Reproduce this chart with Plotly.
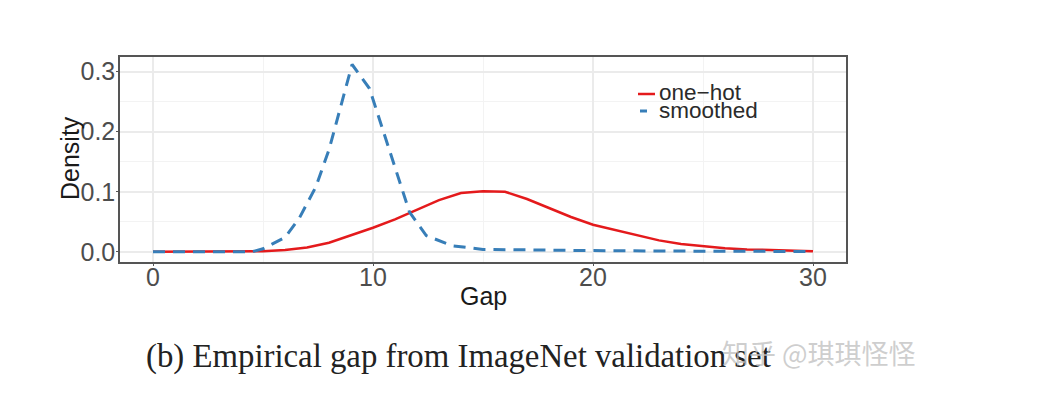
import plotly.graph_objects as go

# ---- data ----
onehot_x = [0, 1, 2, 3, 4, 5, 6, 7, 8, 9, 10, 11, 12, 13, 14, 15, 16, 17, 18, 19, 20,
            21, 22, 23, 24, 25, 26, 27, 28, 29, 30]
onehot_y = [0.0, 0.0, 0.0, 0.0, 0.0, 0.001, 0.003, 0.007, 0.015, 0.027, 0.040, 0.054,
            0.070, 0.086, 0.098, 0.101, 0.100, 0.088, 0.073, 0.058, 0.045, 0.036, 0.027,
            0.019, 0.013, 0.009, 0.006, 0.004, 0.003, 0.002, 0.001]

smoothed_x = [0, 2, 4.5, 5, 6, 6.65, 7.4, 8, 9.05, 9.84, 11.66, 12.42, 13.6, 15, 17,
              20, 25, 30]
smoothed_y = [0.0, 0.0, 0.0, 0.005, 0.024, 0.056, 0.108, 0.17, 0.312, 0.272, 0.066,
              0.027, 0.010, 0.004, 0.003, 0.002, 0.001, 0.0005]

series_names = ["one\u2212hot", "smoothed"]
x_ticks = [0, 10, 20, 30]
y_ticks = [0.0, 0.1, 0.2, 0.3]
x_title = "Gap"
y_title = "Density"
caption = "(b) Empirical gap from ImageNet validation set"
watermark = "知乎 @琪琪怪怪"

RED = "#E41A1C"
BLUE = "#377EB8"

# page-pixel helpers (plot panel spans x 120..846, y 57..262 in the page)
PX0, PX1, PY0, PY1 = 120, 846, 57, 262


def px(xp):
    return (xp - PX0) / (PX1 - PX0)


def py(yp):
    return (PY1 - yp) / (PY1 - PY0)


fig = go.Figure()
fig.add_trace(go.Scatter(x=onehot_x, y=onehot_y, mode="lines", name=series_names[0],
                         line=dict(color=RED, width=2.5), showlegend=False))
fig.add_trace(go.Scatter(x=smoothed_x, y=smoothed_y, mode="lines", name=series_names[1],
                         line=dict(color=BLUE, width=3, dash="12px,8px"), showlegend=False))

tickfont = dict(family="Liberation Sans, Arial, sans-serif", size=25, color="#4D4D4D")
titlefont = dict(family="Liberation Sans, Arial, sans-serif", size=25, color="#1A1A1A")

fig.update_xaxes(range=[-1.5, 31.5], tickvals=x_ticks, ticktext=[str(v) for v in x_ticks],
                 showgrid=True, gridcolor="#EBEBEB", gridwidth=2,
                 minor=dict(dtick=5, tick0=0, showgrid=True, gridcolor="#F3F3F3", gridwidth=1),
                 showline=True, linecolor="#555555", linewidth=1.5, mirror=True,
                 ticks="outside", ticklen=2, tickcolor="#555555",
                 tickfont=tickfont, zeroline=False, ticklabelstandoff=-10)
fig.update_yaxes(range=[-0.017, 0.3245], tickvals=y_ticks,
                 ticktext=[f"{v:.1f}" for v in y_ticks],
                 showgrid=True, gridcolor="#EBEBEB", gridwidth=2,
                 minor=dict(dtick=0.05, tick0=0, showgrid=True, gridcolor="#F3F3F3", gridwidth=1),
                 showline=True, linecolor="#555555", linewidth=1.5, mirror=True,
                 ticks="outside", ticklen=2, tickcolor="#555555",
                 tickfont=tickfont, zeroline=False, ticklabelstandoff=-4)

# axis titles
fig.add_annotation(xref="paper", yref="paper", x=px(483), y=py(296), text=x_title,
                   showarrow=False, xanchor="center", yanchor="middle", font=titlefont)
fig.add_annotation(xref="paper", yref="paper", x=px(70), y=py(158), text=y_title,
                   textangle=-90, showarrow=False, xanchor="center", yanchor="middle",
                   font=titlefont)

# legend drawn inside panel (ggplot style, tight spacing)
legend_font = dict(family="Liberation Sans, Arial, sans-serif", size=22.5, color="#2B2B2B")
fig.add_shape(type="line", xref="paper", yref="paper", x0=px(638), x1=px(655),
              y0=py(94), y1=py(94), line=dict(color=RED, width=2.5))
fig.add_shape(type="line", xref="paper", yref="paper", x0=px(640), x1=px(647),
              y0=py(111), y1=py(111), line=dict(color=BLUE, width=3))
fig.add_annotation(xref="paper", yref="paper", x=px(657), y=py(92.5), text=series_names[0],
                   showarrow=False, xanchor="left", yanchor="middle", font=legend_font)
fig.add_annotation(xref="paper", yref="paper", x=px(657), y=py(110.5), text=series_names[1],
                   showarrow=False, xanchor="left", yanchor="middle", font=legend_font)

# caption and watermark
fig.add_annotation(xref="paper", yref="paper", x=px(458), y=py(356),
                   text=caption, showarrow=False, xanchor="center", yanchor="middle",
                   font=dict(family="Liberation Serif, Times New Roman, serif", size=32.8,
                             color="#222222"))
fig.add_annotation(xref="paper", yref="paper", x=px(819), y=py(352),
                   text=watermark, showarrow=False, xanchor="center", yanchor="middle",
                   font=dict(family="Noto Sans CJK SC, sans-serif", size=27,
                             color="rgba(190,190,190,0.75)"))

# the page body has an 8px margin, so the figure is drawn 8px smaller and offset
fig.update_layout(width=1031, height=399, margin=dict(l=PX0 - 8, r=1031 - (PX1 - 8),
                                                       t=PY0 - 8, b=399 - (PY1 - 8)),
                  paper_bgcolor="white", plot_bgcolor="white", showlegend=False)

fig.write_html("out.html")
